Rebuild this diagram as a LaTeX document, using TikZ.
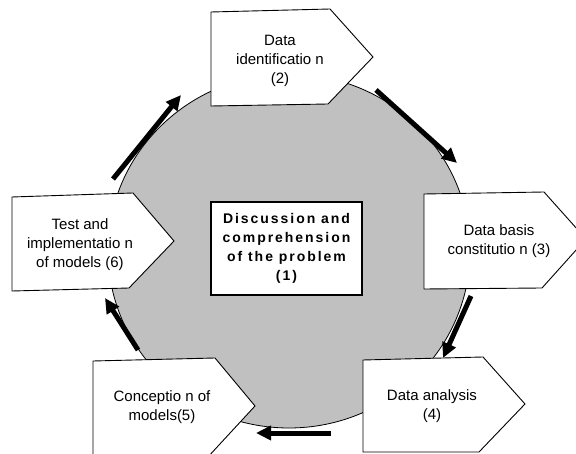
\documentclass[tikz,border=0pt]{standalone}
\usepackage{fontspec}
\setmainfont{Liberation Sans}
\newfontfamily\spacedsans[LetterSpace=14]{Liberation Sans}
\usetikzlibrary{shapes.geometric,arrows.meta}
\definecolor{discgray}{HTML}{C0C0C0}
\tikzset{
  stage/.style={draw=black, line width=0.9pt, fill=white, line join=miter},
  stagetext/.style={align=center, font=\fontsize{15}{19}\selectfont, inner sep=0pt},
  flow/.style={line width=5pt, -{Triangle[length=15pt,width=14pt]}},
}
\begin{document}
\begin{tikzpicture}[x=1pt,y=-1pt]
\useasboundingbox (0,0) rectangle (576,454);
\clip (0,0) rectangle (576,454);

% central disc
\node[ellipse, draw=black, line width=0.8pt, fill=discgray,
      minimum width=362pt, minimum height=354pt, inner sep=0pt] (disc) at (289,251) {};

% central problem box
\node[draw=black, line width=1.5pt, fill=white, minimum width=151pt, minimum height=93pt,
      align=center, inner sep=0pt,
      font=\spacedsans\bfseries\fontsize{14}{19}\selectfont] (problem) at (286.5,248.5)
      {Discussion and\\comprehension\\of the problem\\(1)};

% stage outlines (arrow-shaped pentagons)
\draw[stage] (211,12) -- (330,9) -- (373,57) -- (328,104) -- (211,106) -- cycle;
\draw[stage] (424,194) -- (544,192) -- (586,239) -- (542,288) -- (424,289) -- cycle;
\draw[stage] (363,360) -- (483,357) -- (525,404) -- (479,452) -- (363,452) -- cycle;
\draw[stage] (93,361) -- (215,358) -- (255,406) -- (207,458) -- (93,458) -- cycle;
\draw[stage] (12,197) -- (133,193) -- (174,241) -- (129,288) -- (12,291) -- cycle;

% stage labels
\node[stagetext] (ident) at (280,61) {Data\\identificatio n\\(2)};
\node[stagetext] (basis) at (499,241.5) {Data basis\\constitutio n (3)};
\node[stagetext] (analysis) at (432,406) {Data analysis\\(4)};
\node[stagetext] (concept) at (162,407) {Conceptio n of\\models(5)};
\node[stagetext] (test) at (80,245) {Test and\\implementatio n\\of models (6)};

% end points of the flow arrows around the disc
\coordinate (f1s) at (113,179); \coordinate (f1e) at (181,95);
\coordinate (f2s) at (376,90);  \coordinate (f2e) at (457,163);
\coordinate (f3s) at (471,296); \coordinate (f3e) at (443,358);
\coordinate (f4s) at (331,433); \coordinate (f4e) at (256,433);
\coordinate (f5s) at (138,350); \coordinate (f5e) at (105,298);

\draw[flow] (f1s) -- (f1e);
\draw[flow] (f2s) -- (f2e);
\draw[flow] (f3s) -- (f3e);
\draw[flow] (f4s) -- (f4e);
\draw[flow] (f5s) -- (f5e);
\end{tikzpicture}
\end{document}
